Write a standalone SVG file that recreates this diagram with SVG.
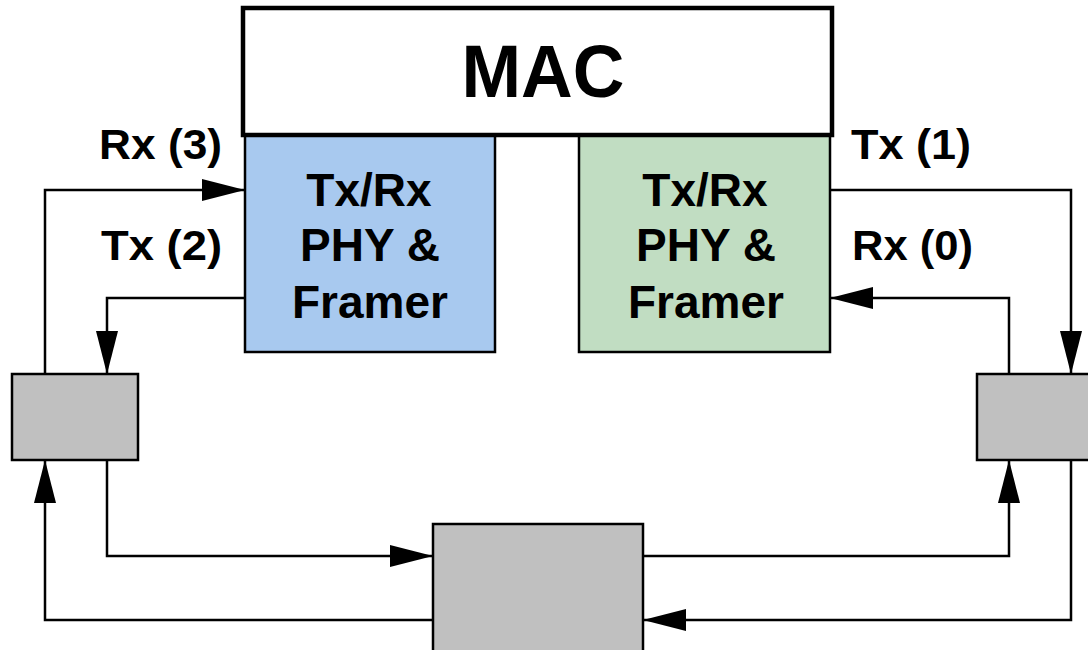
<svg xmlns="http://www.w3.org/2000/svg" width="1088" height="650" viewBox="0 0 1088 650">
<defs>
<style>
.box{stroke:#000;stroke-width:2.5}
.mac{fill:#fff;stroke:#000;stroke-width:4.5}
.blue{fill:#a8c9ef}
.green{fill:#c1ddc2}
.gray{fill:#c0c0c0}
.t{font-family:"Liberation Sans",Arial,sans-serif;font-weight:bold;fill:#000}
.lbl{font-size:42px}
.phy{font-size:46px;text-anchor:middle}
.conn path{fill:none;stroke:#000;stroke-width:2.5;marker-end:url(#ah)}
</style>
<marker id="ah" markerUnits="userSpaceOnUse" markerWidth="44" markerHeight="22" refX="43" refY="11" orient="auto" viewBox="0 0 44 22">
<path d="M0,0 L43,11 L0,22 z" fill="#000"/>
</marker>
</defs>
<rect width="1088" height="650" fill="#fff"/>
<g id="phy-left">
<rect class="box blue" x="245" y="135" width="250" height="217"/>
<text class="t phy" x="369" y="206">Tx/Rx</text>
<text class="t phy" x="370" y="261">PHY &amp;</text>
<text class="t phy" x="370" y="318">Framer</text>
</g>
<g id="phy-right">
<rect class="box green" x="579" y="135" width="251" height="217"/>
<text class="t phy" x="705" y="206">Tx/Rx</text>
<text class="t phy" x="706" y="261">PHY &amp;</text>
<text class="t phy" x="706" y="318">Framer</text>
</g>
<g id="mac">
<rect class="mac" x="243" y="8" width="589" height="127"/>
<text class="t" x="543" y="97" font-size="74" text-anchor="middle" textLength="163" lengthAdjust="spacingAndGlyphs">MAC</text>
</g>
<g id="node-left">
<rect class="box gray" x="12" y="374" width="126" height="86"/>
</g>
<g id="node-right">
<rect class="box gray" x="977" y="374" width="120" height="86"/>
</g>
<g id="node-bottom">
<rect class="box gray" x="433" y="524" width="210" height="140"/>
</g>
<g id="labels">
<text class="t lbl" x="99" y="159" textLength="123" lengthAdjust="spacingAndGlyphs">Rx (3)</text>
<text class="t lbl" x="101" y="260" textLength="121" lengthAdjust="spacingAndGlyphs">Tx (2)</text>
<text class="t lbl" x="851" y="159" textLength="120" lengthAdjust="spacingAndGlyphs">Tx (1)</text>
<text class="t lbl" x="852" y="260" textLength="121" lengthAdjust="spacingAndGlyphs">Rx (0)</text>
</g>
<g id="connectors" class="conn">
<path d="M45,374 V190 H245"/>
<path d="M245,298 H107 V374"/>
<path d="M830,190 H1071 V374"/>
<path d="M1009,374 V298 H830"/>
<path d="M107,460 V556 H433"/>
<path d="M433,620 H45 V460"/>
<path d="M643,556 H1009 V460"/>
<path d="M1071,460 V620 H643"/>
</g>
</svg>
